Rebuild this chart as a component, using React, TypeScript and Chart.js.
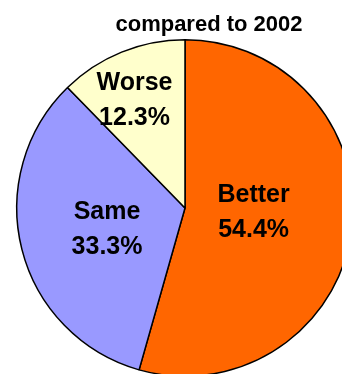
import React, { useEffect, useRef } from "react";
import { Chart, registerables } from "chart.js";

Chart.register(...registerables);

// Survey answers, in percent
const categories = ["Better", "Same", "Worse"];
const shares = [54.4, 33.3, 12.3];
const sliceColors = ["#FF6600", "#9999FF", "#FFFFCC"];
const chartTitle = "compared to 2002";

// Where each in-slice label sits: fraction of the radius and a small angular nudge (degrees)
const labelRadius = [0.408, 0.478, 0.717];
const labelAngleShift = [-6, 0, -2.6];

const FONT = "Arial, 'Liberation Sans', sans-serif";

const sliceLabels = {
  id: "sliceLabels",
  afterDatasetsDraw(chart: any) {
    const { ctx } = chart;
    const meta = chart.getDatasetMeta(0);
    ctx.save();
    ctx.fillStyle = "#000";
    ctx.textAlign = "center";
    ctx.textBaseline = "alphabetic";
    ctx.font = `bold 25px ${FONT}`;
    meta.data.forEach((arc: any, i: number) => {
      const { x, y, startAngle, endAngle, outerRadius } = arc.getProps(
        ["x", "y", "startAngle", "endAngle", "outerRadius"],
        true
      );
      const mid = (startAngle + endAngle) / 2 + (labelAngleShift[i] * Math.PI) / 180;
      const r = outerRadius * labelRadius[i];
      const px = x + Math.cos(mid) * r;
      const py = y + Math.sin(mid) * r;
      ctx.fillText(categories[i], px, py - 17.4 + 9);
      ctx.fillText(shares[i].toFixed(1) + "%", px, py + 17.4 + 9);
    });
    ctx.restore();
  },
};

const titleText = {
  id: "titleText",
  afterDraw(chart: any) {
    const { ctx } = chart;
    ctx.save();
    ctx.fillStyle = "#000";
    ctx.textAlign = "center";
    ctx.textBaseline = "alphabetic";
    ctx.font = `bold 22px ${FONT}`;
    ctx.fillText(chartTitle, 209, 31);
    ctx.restore();
  },
};

export default function App() {
  const canvasRef = useRef<HTMLCanvasElement | null>(null);

  useEffect(() => {
    if (!canvasRef.current) return;
    const chart = new Chart(canvasRef.current, {
      type: "pie",
      data: {
        labels: categories,
        datasets: [
          {
            data: shares,
            backgroundColor: sliceColors,
            borderColor: "#000000",
            borderWidth: 1.5,
          },
        ],
      },
      options: {
        responsive: false,
        animation: false,
        devicePixelRatio: 1,
        layout: { padding: { left: 16, right: 16, top: 39, bottom: 39 } },
        plugins: {
          legend: { display: false },
          tooltip: { enabled: false },
          title: { display: false },
        },
      },
      plugins: [sliceLabels, titleText],
    });
    return () => chart.destroy();
  }, []);

  return (
    <div
      style={{
        position: "fixed",
        left: 0,
        top: 0,
        width: 342,
        height: 374,
        overflow: "hidden",
        background: "#ffffff",
      }}
    >
      <canvas
        ref={canvasRef}
        width={370}
        height={416}
        style={{ position: "absolute", left: 0, top: 0 }}
      />
    </div>
  );
}
